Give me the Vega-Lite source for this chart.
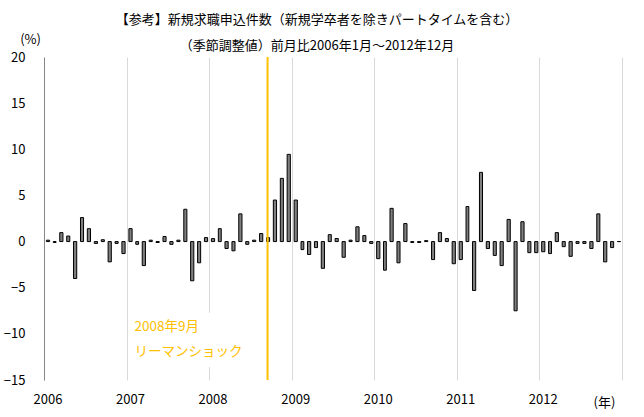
{
  "$schema": "https://vega.github.io/schema/vega-lite/v6.json",
  "autosize": "none",
  "width": 578,
  "height": 323,
  "padding": {"left": 44, "top": 57, "right": 22, "bottom": 37},
  "background": "white",
  "config": {
    "view": {"stroke": null},
    "font": "Noto Sans CJK JP"
  },
  "title": {
    "text": ["【参考】新規求職申込件数（新規学卒者を除きパートタイムを含む）", "（季節調整値）前月比2006年1月～2012年12月"],
    "fontSize": 13,
    "fontWeight": "normal",
    "font": "Noto Sans CJK JP",
    "color": "#000000",
    "lineHeight": 26,
    "anchor": "middle",
    "dx": -16,
    "offset": -20
  },
  "datasets": {
    "monthly": [
      {"date": "2006-01-01", "value": 0.15},
      {"date": "2006-02-01", "value": -0.1},
      {"date": "2006-03-01", "value": 0.97},
      {"date": "2006-04-01", "value": 0.6},
      {"date": "2006-05-01", "value": -4.0},
      {"date": "2006-06-01", "value": 2.6},
      {"date": "2006-07-01", "value": 1.4},
      {"date": "2006-08-01", "value": -0.2},
      {"date": "2006-09-01", "value": 0.2},
      {"date": "2006-10-01", "value": -2.2},
      {"date": "2006-11-01", "value": -0.2},
      {"date": "2006-12-01", "value": -1.3},
      {"date": "2007-01-01", "value": 1.4},
      {"date": "2007-02-01", "value": -0.3},
      {"date": "2007-03-01", "value": -2.6},
      {"date": "2007-04-01", "value": 0.15},
      {"date": "2007-05-01", "value": -0.1},
      {"date": "2007-06-01", "value": 0.55},
      {"date": "2007-07-01", "value": -0.3},
      {"date": "2007-08-01", "value": 0.15},
      {"date": "2007-09-01", "value": 3.5},
      {"date": "2007-10-01", "value": -4.25},
      {"date": "2007-11-01", "value": -2.3},
      {"date": "2007-12-01", "value": 0.43},
      {"date": "2008-01-01", "value": 0.32},
      {"date": "2008-02-01", "value": 1.4},
      {"date": "2008-03-01", "value": -0.75},
      {"date": "2008-04-01", "value": -1.0},
      {"date": "2008-05-01", "value": 3.0},
      {"date": "2008-06-01", "value": -0.3},
      {"date": "2008-07-01", "value": 0.15},
      {"date": "2008-08-01", "value": 0.87},
      {"date": "2008-09-01", "value": 0.43},
      {"date": "2008-10-01", "value": 4.5},
      {"date": "2008-11-01", "value": 6.85},
      {"date": "2008-12-01", "value": 9.45},
      {"date": "2009-01-01", "value": 4.5},
      {"date": "2009-02-01", "value": -0.87},
      {"date": "2009-03-01", "value": -1.4},
      {"date": "2009-04-01", "value": -0.65},
      {"date": "2009-05-01", "value": -2.9},
      {"date": "2009-06-01", "value": 0.75},
      {"date": "2009-07-01", "value": 0.33},
      {"date": "2009-08-01", "value": -1.7},
      {"date": "2009-09-01", "value": 0.15},
      {"date": "2009-10-01", "value": 1.6},
      {"date": "2009-11-01", "value": 0.65},
      {"date": "2009-12-01", "value": -0.2},
      {"date": "2010-01-01", "value": -1.85},
      {"date": "2010-02-01", "value": -3.1},
      {"date": "2010-03-01", "value": 3.6},
      {"date": "2010-04-01", "value": -2.3},
      {"date": "2010-05-01", "value": 1.95},
      {"date": "2010-06-01", "value": -0.1},
      {"date": "2010-07-01", "value": -0.1},
      {"date": "2010-08-01", "value": 0.1},
      {"date": "2010-09-01", "value": -1.95},
      {"date": "2010-10-01", "value": 0.97},
      {"date": "2010-11-01", "value": 0.33},
      {"date": "2010-12-01", "value": -2.4},
      {"date": "2011-01-01", "value": -1.95},
      {"date": "2011-02-01", "value": 3.8},
      {"date": "2011-03-01", "value": -5.3},
      {"date": "2011-04-01", "value": 7.5},
      {"date": "2011-05-01", "value": -0.75},
      {"date": "2011-06-01", "value": -1.5},
      {"date": "2011-07-01", "value": -2.6},
      {"date": "2011-08-01", "value": 2.4},
      {"date": "2011-09-01", "value": -7.5},
      {"date": "2011-10-01", "value": 2.15},
      {"date": "2011-11-01", "value": -1.2},
      {"date": "2011-12-01", "value": -1.2},
      {"date": "2012-01-01", "value": -1.1},
      {"date": "2012-02-01", "value": -1.3},
      {"date": "2012-03-01", "value": 0.97},
      {"date": "2012-04-01", "value": -0.55},
      {"date": "2012-05-01", "value": -1.6},
      {"date": "2012-06-01", "value": -0.2},
      {"date": "2012-07-01", "value": -0.2},
      {"date": "2012-08-01", "value": -0.75},
      {"date": "2012-09-01", "value": 3.0},
      {"date": "2012-10-01", "value": -2.2},
      {"date": "2012-11-01", "value": -0.65},
      {"date": "2012-12-01", "value": 0.0}
    ]
  },
  "layer": [
    {
      "data": {"name": "monthly"},
      "mark": {"type": "bar", "fill": "#7F7F7F", "stroke": "#000000", "strokeWidth": 1, "width": {"band": 0.6}},
      "encoding": {
        "x": {
          "field": "date",
          "timeUnit": "utcyearmonth",
          "type": "temporal",
          "scale": {
            "type": "utc",
            "domain": [{"year": 2006, "month": 1, "date": 1, "utc": true}, {"year": 2013, "month": 1, "date": 1, "utc": true}]
          },
          "axis": {
            "values": [
              {"year": 2006, "month": 1, "date": 1, "utc": true},
              {"year": 2007, "month": 1, "date": 1, "utc": true},
              {"year": 2008, "month": 1, "date": 1, "utc": true},
              {"year": 2009, "month": 1, "date": 1, "utc": true},
              {"year": 2010, "month": 1, "date": 1, "utc": true},
              {"year": 2011, "month": 1, "date": 1, "utc": true},
              {"year": 2012, "month": 1, "date": 1, "utc": true},
              {"year": 2013, "month": 1, "date": 1, "utc": true}
            ],
            "labelExpr": "utcyear(datum.value) == 2013 ? '' : utcFormat(datum.value, '%Y')",
            "domain": false,
            "ticks": false,
            "tickSize": 0,
            "grid": true,
            "gridColor": "#D9D9D9",
            "gridWidth": 1,
            "labelFontSize": 13,
            "labelColor": "#000000",
            "labelPadding": 13,
            "labelOffset": 3.5,
            "labelFlush": false,
            "labelOverlap": false,
            "title": "(年)",
            "titleFontSize": 13,
            "titleFontWeight": "normal",
            "titleColor": "#000000",
            "titleX": 560,
            "titleY": 22,
            "titleAlign": "center",
            "titleBaseline": "middle",
            "titleAnchor": null
          }
        },
        "y": {
          "field": "value",
          "type": "quantitative",
          "scale": {"domain": [-15, 20], "nice": false, "zero": false},
          "axis": {
            "values": [-15, -10, -5, 0, 5, 10, 15, 20],
            "grid": false,
            "ticks": false,
            "tickSize": 0,
            "domain": true,
            "domainColor": "#868686",
            "domainWidth": 1,
            "labelFontSize": 13,
            "labelColor": "#000000",
            "labelPadding": 19,
            "title": "(%)",
            "titleAngle": 0,
            "titleFontSize": 13,
            "titleFontWeight": "normal",
            "titleColor": "#000000",
            "titleX": -14,
            "titleY": -18,
            "titleAlign": "center",
            "titleBaseline": "middle",
            "titleAnchor": null
          }
        }
      }
    },
    {
      "mark": {"type": "rule", "color": "#868686", "strokeWidth": 1},
      "encoding": {"y": {"datum": 0, "type": "quantitative"}}
    },
    {
      "data": {"values": [{"start": "2007-02-01", "end": "2008-07-20", "top": -7.7, "bottom": -13.6}]},
      "mark": {"type": "rect", "fill": "white", "stroke": null},
      "encoding": {
        "x": {"field": "start", "type": "temporal"},
        "x2": {"field": "end"},
        "y": {"field": "top", "type": "quantitative"},
        "y2": {"field": "bottom"}
      }
    },
    {
      "data": {"values": [{"date": "2008-09-16"}]},
      "mark": {"type": "rule", "color": "#FFC000", "strokeWidth": 2},
      "encoding": {"x": {"field": "date", "type": "temporal"}}
    },
    {
      "data": {"values": [
        {"date": "2007-02-05", "value": -9.3, "label": "2008年9月"},
        {"date": "2007-02-05", "value": -12.0, "label": "リーマンショック"}
      ]},
      "mark": {"type": "text", "align": "left", "baseline": "middle", "color": "#FFC000", "fontSize": 13.5, "font": "Noto Sans CJK JP"},
      "encoding": {
        "x": {"field": "date", "type": "temporal"},
        "y": {"field": "value", "type": "quantitative"},
        "text": {"field": "label"}
      }
    }
  ]
}
